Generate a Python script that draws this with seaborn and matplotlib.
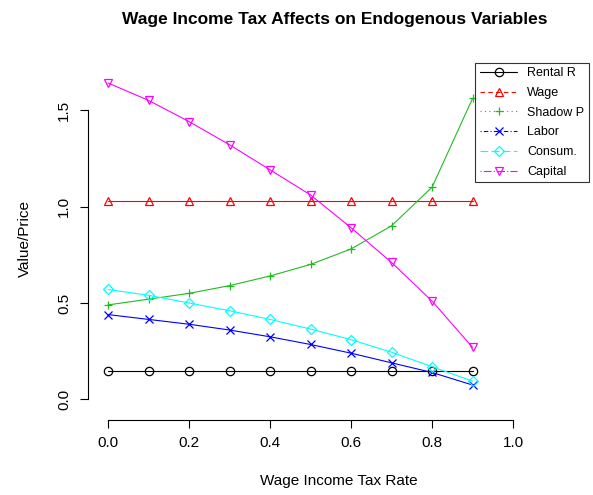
import numpy as np
import pandas as pd
import matplotlib
matplotlib.use("Agg")
import matplotlib.pyplot as plt
from matplotlib.lines import Line2D
import seaborn as sns

tax_rate = [0.0, 0.1, 0.2, 0.3, 0.4, 0.5, 0.6, 0.7, 0.8, 0.9]
rental_r = [0.15] * 10
wage = [1.03] * 10
shadow_p = [0.49, 0.52, 0.55, 0.59, 0.64, 0.70, 0.78, 0.90, 1.10, 1.56]
labor = [0.44, 0.415, 0.39, 0.36, 0.325, 0.285, 0.24, 0.19, 0.14, 0.075]
consum = [0.57, 0.54, 0.50, 0.46, 0.415, 0.365, 0.31, 0.245, 0.17, 0.095]
capital = [1.64, 1.55, 1.44, 1.32, 1.19, 1.06, 0.89, 0.71, 0.51, 0.27]

series = [
    ("Rental R", rental_r, "black", "o", "-"),
    ("Wage", wage, "red", "^", (0, (4, 3))),
    ("Shadow P", shadow_p, "#22bb22", "+", (0, (1, 3))),
    ("Labor", labor, "blue", "x", (0, (1, 2, 4, 2))),
    ("Consum.", consum, "cyan", "D", (0, (7, 3))),
    ("Capital", capital, "magenta", "v", (0, (1, 2, 7, 2))),
]

sns.set_style("white")
plt.rcParams["font.family"] = ["Liberation Sans", "DejaVu Sans"]
plt.rcParams["text.color"] = "black"
plt.rcParams["axes.labelcolor"] = "black"
plt.rcParams["xtick.color"] = "black"
plt.rcParams["ytick.color"] = "black"

fig, ax = plt.subplots(figsize=(5.93, 4.95), dpi=100)
handles = []
for name, vals, col, mk, ls in series:
    df = pd.DataFrame({"x": tax_rate, "y": vals})
    ms = 6 if mk != "D" else 5
    sns.lineplot(data=df, x="x", y="y", ax=ax, color=col, linewidth=0.8,
                 marker=mk, markersize=ms,
                 markerfacecolor="none", markeredgecolor=col, markeredgewidth=0.9,
                 legend=False)
    handles.append(Line2D([], [], color=col, linewidth=0.8, linestyle=ls, marker=mk,
                          markersize=ms, markerfacecolor="none", markeredgecolor=col,
                          markeredgewidth=0.9, label=name))

ax.set_xlim(-0.05, 1.19)
ax.set_ylim(-0.105, 1.77)
ax.set_xticks([0.0, 0.2, 0.4, 0.6, 0.8, 1.0])
ax.set_xticklabels(["0.0", "0.2", "0.4", "0.6", "0.8", "1.0"])
ax.set_yticks([0.0, 0.5, 1.0, 1.5])
ax.set_yticklabels(["0.0", "0.5", "1.0", "1.5"], rotation=90, va="center")
ax.tick_params(direction="out", length=6, width=0.8, labelsize=11, left=True, bottom=True, pad=6)
ax.spines["top"].set_visible(False)
ax.spines["right"].set_visible(False)
ax.spines["left"].set_bounds(0.0, 1.5)
ax.spines["bottom"].set_bounds(0.0, 1.0)
for s in ("left", "bottom"):
    ax.spines[s].set_color("black")
    ax.spines[s].set_linewidth(0.8)
ax.set_xlabel("Wage Income Tax Rate", fontsize=11, labelpad=17)
ax.set_ylabel("Value/Price", fontsize=11, labelpad=18)
fig.suptitle("Wage Income Tax Affects on Endogenous Variables", fontsize=12.5,
             fontweight="bold", x=0.565, y=0.975)
leg = ax.legend(handles=handles, loc="upper right", fontsize=9, frameon=True, fancybox=False,
                edgecolor="black", borderaxespad=0.1, handlelength=3, borderpad=0.35,
                labelspacing=0.62, bbox_to_anchor=(1.0, 0.99))
leg.get_frame().set_linewidth(0.8)
fig.subplots_adjust(left=0.148, right=0.995, top=0.883, bottom=0.152)
fig.savefig("out.png", dpi=100)
